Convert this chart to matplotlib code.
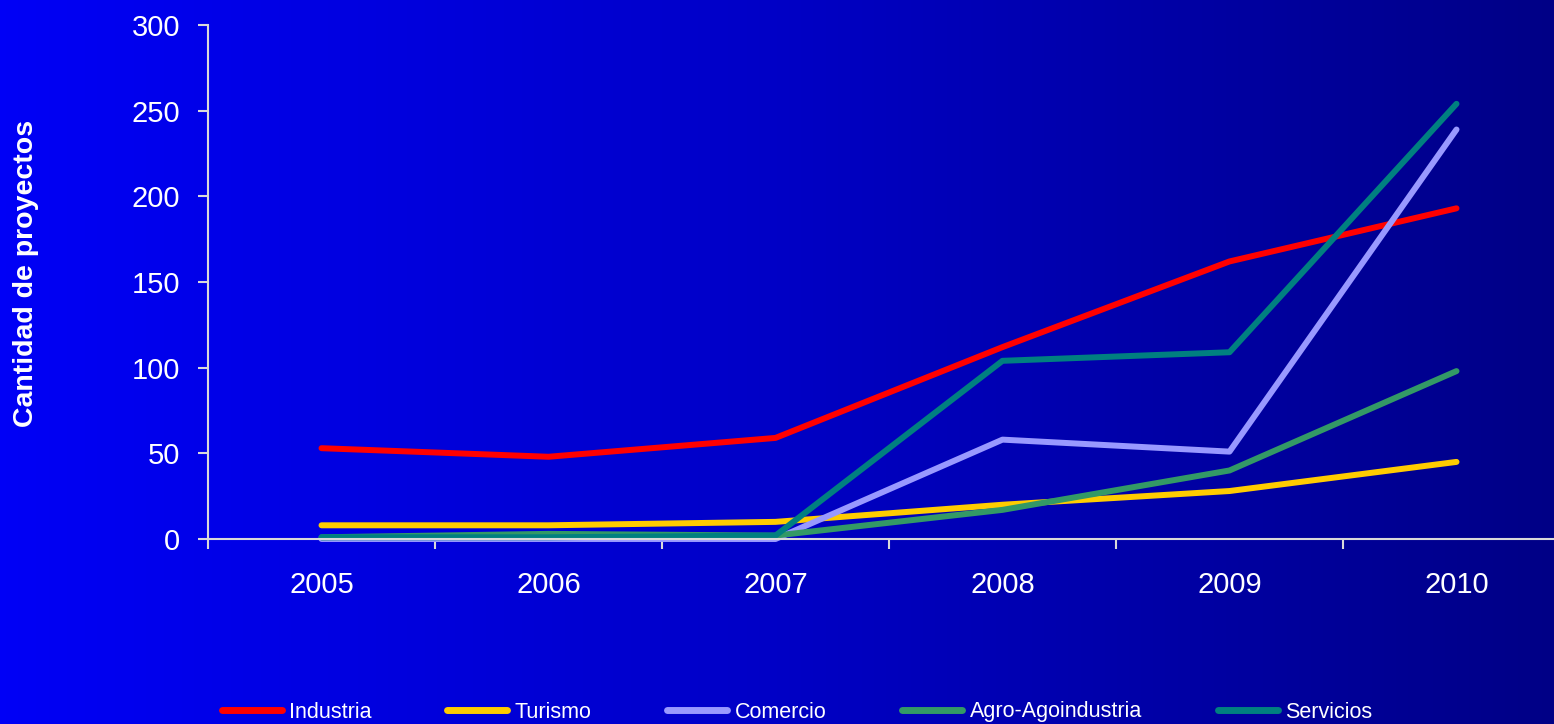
import numpy as np
import matplotlib
matplotlib.use("Agg")
import matplotlib.pyplot as plt
from matplotlib.colors import LinearSegmentedColormap

plt.rcParams['font.family'] = ['Liberation Sans', 'DejaVu Sans']

years = ["2005", "2006", "2007", "2008", "2009", "2010"]
industria = [53, 48, 59, 112, 162, 193]
turismo = [8, 8, 10, 20, 28, 45]
comercio = [0, 0, 0, 58, 51, 239]
agro = [1, 3, 2, 17, 40, 98]
servicios = [1, 1, 2, 104, 109, 254]

series_names = ["Industria", "Turismo", "Comercio", "Agro-Agoindustria", "Servicios"]
series_values = [industria, turismo, comercio, agro, servicios]
series_colors = ["#FF0000", "#FFCC00", "#9999FF", "#339966", "#008080"]

W, H = 1554, 724
fig = plt.figure(figsize=(W / 100, H / 100), dpi=100)

# gradient background
bg = fig.add_axes([0, 0, 1, 1], zorder=-10)
cmap = LinearSegmentedColormap.from_list("bg", ["#0000F6", "#0000C6", "#000086"])
grad = np.linspace(0, 1, 512).reshape(1, -1)
bg.imshow(grad, aspect="auto", cmap=cmap, extent=[0, 1, 0, 1])
bg.set_axis_off()

ax = fig.add_axes([208 / W, 1 - 539 / H, (1570 - 208) / W, (539 - 25) / H])
ax.patch.set_alpha(0)

x = np.arange(len(years))
for name, vals, col in zip(series_names, series_values, series_colors):
    ax.plot(x, vals, color=col, lw=4.3, label=name,
            solid_capstyle="round", solid_joinstyle="round", clip_on=False)

ax.set_xlim(-0.5, len(years) - 0.5)
ax.set_ylim(0, 300)
ax.set_yticks(np.arange(0, 301, 50))
ax.set_xticks(x)
ax.set_xticklabels(years)
ax.set_xticks(np.arange(-0.5, len(years) + 0.5, 1), minor=True)

spine_col = "#D9D9D9"
for s in ["top", "right"]:
    ax.spines[s].set_visible(False)
for s in ["left", "bottom"]:
    ax.spines[s].set_color(spine_col)
    ax.spines[s].set_linewidth(1.5)

ax.tick_params(axis="y", colors=spine_col, labelcolor="white", labelsize=21,
               length=7, width=1.5, direction="out", pad=13)
ax.tick_params(axis="x", which="major", length=0, labelcolor="white",
               labelsize=21, pad=23)
ax.tick_params(axis="x", which="minor", length=7, width=1.5,
               colors=spine_col, direction="out")

ax.set_ylabel("Cantidad de proyectos", color="white", fontsize=20.5,
              fontweight="bold")
ax.yaxis.set_label_coords(-0.124, 0.516)

leg = fig.legend(loc="center", bbox_to_anchor=(797 / W, 1 - 712 / H),
                 ncol=5, frameon=False, fontsize=15.5, handlelength=2.8,
                 handletextpad=0.35, columnspacing=3.5)
for t in leg.get_texts():
    t.set_color("white")
for h in leg.get_lines():
    h.set_linewidth(5)
    h.set_solid_capstyle("round")

fig.savefig("out.png", dpi=100)
